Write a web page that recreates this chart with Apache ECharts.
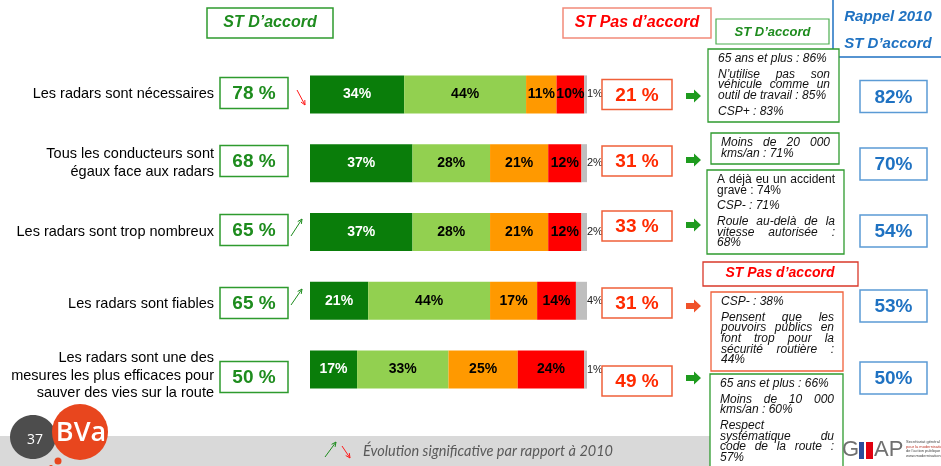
<!DOCTYPE html>
<html>
<head>
<meta charset="utf-8">
<script src="https://cdn.jsdelivr.net/npm/echarts@6/dist/echarts.min.js"></script>
<style>
  html, body { margin: 0; padding: 0; background: #fff; }
  #chart { width: 941px; height: 466px; }
</style>
</head>
<body>
<div id="chart"></div>
<script>
// ---- Data -----------------------------------------------------------------
const categories = [
  'Les radars sont nécessaires',
  'Tous les conducteurs sont\négaux face aux radars',
  'Les radars sont trop nombreux',
  'Les radars sont fiables',
  'Les radars sont une des\nmesures les plus efficaces pour\nsauver des vies sur la route'
];
const tresDaccord      = [34, 37, 37, 21, 17];
const plutotDaccord    = [44, 28, 28, 44, 33];
const plutotPasDaccord = [11, 21, 21, 17, 25];
const pasDuToutDaccord = [10, 12, 12, 14, 24];
const nsp              = [1, 2, 2, 4, 1];

const totalDaccord    = [78, 68, 65, 65, 50];
const totalPasDaccord = [21, 31, 33, 31, 49];
const rappel2010      = [82, 70, 54, 53, 50];
const evolution       = ['down', null, 'up', 'up', null];

// Profile notes per statement (paragraphs of wrapped lines)
const noteTexts = [
  [['65 ans et plus : 86%'], ['N’utilise pas son', 'véhicule comme un', 'outil de travail : 85%'], ['CSP+ : 83%']],
  [['Moins de 20 000', 'kms/an : 71%']],
  [['A déjà eu un accident', 'grave : 74%'], ['CSP- : 71%'], ['Roule au-delà de la', 'vitesse autorisée :', '68%']],
  [['CSP- : 38%'], ['Pensent que les', 'pouvoirs publics en', 'font trop pour la', 'sécurité routière :', '44%']],
  [['65 ans et plus : 66%'], ['Moins de 10 000', 'kms/an : 60%'], ['Respect', 'systématique du', 'code de la route :', '57%']]
];
const noteGroup = ['accord', 'accord', 'accord', 'pas', 'accord'];

const headerAccord = 'ST D’accord';
const headerPas = 'ST Pas d’accord';
const headerRappel = ['Rappel 2010', 'ST D’accord'];
const footerText = 'Évolution significative par rapport à 2010';

// ---- Styles & layout ------------------------------------------------------
const FONT = '"Liberation Sans", Arial, sans-serif';
const C = {
  dark: '#0A7D0A', light: '#92D050', orange: '#FF9900', red: '#FF0000', grey: '#BFBFBF',
  green: '#1E8C1E', greenBorder: '#2E9B2E', redText: '#FF2A00', redBorder: '#F0603A',
  blue: '#1F72C2', blueBorder: '#5B9BD5'
};
const greenBoxY = [93, 161, 230, 303, 377];
const redBoxY   = [94.5, 161, 226, 303, 381];
const arrowY    = [96, 160, 225, 306, 378];
const blueBoxY  = [96.5, 164, 231, 306, 378];
const labelShift = [0, 0, 0, 6, 12];   // extra top space pushing some axis labels down
const noteBoxes = [
  { x: 708, y: 49,  w: 131, h: 73 },
  { x: 711, y: 133, w: 128, h: 31 },
  { x: 707, y: 170, w: 137, h: 84, upright: [0] },
  { x: 711, y: 292, w: 132, h: 79 },
  { x: 710, y: 374, w: 133, h: 96 }
];

const chart = echarts.init(document.getElementById('chart'), null, { renderer: 'canvas' });

function segLabel(color) {
  return {
    show: true, position: 'inside', formatter: '{c}%',
    color: color, fontFamily: FONT, fontWeight: 'bold', fontSize: 14
  };
}
function segSeries(name, data, color, labelColor) {
  return {
    name, type: 'bar', stack: 'total', data, barWidth: 38,
    itemStyle: { color }, label: segLabel(labelColor), silent: true
  };
}

const series = [
  segSeries('Tout à fait d’accord', tresDaccord, C.dark, '#fff'),
  segSeries('Plutôt d’accord', plutotDaccord, C.light, '#000'),
  segSeries('Plutôt pas d’accord', plutotPasDaccord, C.orange, '#000'),
  segSeries('Pas du tout d’accord', pasDuToutDaccord, C.red, '#000'),
  {
    name: 'NSP', type: 'bar', stack: 'total', data: nsp, barWidth: 38,
    itemStyle: { color: C.grey }, silent: true,
    label: { show: true, position: 'right', distance: 0, formatter: '{c}%',
             color: '#222', fontFamily: FONT, fontSize: 11 }
  }
];

// ---- Decorations drawn with graphic elements ------------------------------
const g = [];
function rect(x, y, w, h, stroke, lw, fill) {
  g.push({ type: 'rect', z: 10, shape: { x, y, width: w, height: h },
           style: { fill: fill || '#fff', stroke: stroke, lineWidth: lw || 1.5 } });
}
function text(x, y, t, o) {
  o = o || {};
  g.push({ type: 'text', z: 11, x, y, style: {
    text: t, fill: o.color || '#000', fontSize: o.size || 12, fontFamily: o.family || FONT,
    fontWeight: o.weight || 'normal', fontStyle: o.style || 'normal',
    align: o.align || 'center', verticalAlign: 'middle'
  }});
}
function trendArrow(x1, y1, x2, y2, color) {
  g.push({ type: 'polyline', z: 11, shape: { points: [[x1, y1], [x2, y2]] },
           style: { stroke: color, lineWidth: 1, fill: null } });
  const a = Math.atan2(y2 - y1, x2 - x1), L = 5;
  g.push({ type: 'polyline', z: 11, shape: { points: [
    [x2 - L * Math.cos(a - 0.45), y2 - L * Math.sin(a - 0.45)], [x2, y2],
    [x2 - L * Math.cos(a + 0.45), y2 - L * Math.sin(a + 0.45)]] },
    style: { stroke: color, lineWidth: 1, fill: null } });
}
function blockArrow(x, y, color) {
  g.push({ type: 'polygon', z: 11, shape: { points: [
    [x, y - 3], [x + 8, y - 3], [x + 8, y - 6.5], [x + 15, y], [x + 8, y + 6.5], [x + 8, y + 3], [x, y + 3]] },
    style: { fill: color } });
}

// Measurement context for justified note text
const mctx = document.createElement('canvas').getContext('2d');
function wordsJustified(line, left, right, y, font, o) {
  mctx.font = font;
  const words = line.split(' ');
  const widths = words.map(w => mctx.measureText(w).width);
  const total = widths.reduce((s, v) => s + v, 0);
  const gap = (right - left - total) / (words.length - 1);
  let x = left;
  words.forEach((w, k) => {
    text(x, y, w, Object.assign({}, o, { align: 'left' }));
    x += widths[k] + gap;
  });
}

// Column headers
rect(207, 8, 126, 30, C.greenBorder, 1.5);
text(270, 23, headerAccord, { color: C.green, size: 16, weight: 'bold', style: 'italic' });
rect(563, 8, 148, 30, '#F28A7A', 1.5);
text(637, 23, headerPas, { color: C.red, size: 16, weight: 'bold', style: 'italic' });
rect(716, 19, 113, 25, '#4CAF50', 1.2);
text(772.5, 32, headerAccord, { color: C.green, size: 13, weight: 'bold', style: 'italic' });
rect(833, -3, 120, 60, C.blue, 1.5);
text(888, 17, headerRappel[0], { color: C.blue, size: 15, weight: 'bold', style: 'italic' });
text(888, 44, headerRappel[1], { color: C.blue, size: 15, weight: 'bold', style: 'italic' });
rect(703, 262, 155, 24, '#D9382A', 1.3);
text(780, 273.5, headerPas, { color: C.red, size: 14, weight: 'bold', style: 'italic' });

// Per-statement boxes
categories.forEach((c, i) => {
  rect(220, greenBoxY[i] - 15.5, 68, 31, C.greenBorder, 1.5);
  text(254, greenBoxY[i] + 1, totalDaccord[i] + ' %', { color: C.green, size: 19, weight: 'bold' });
  rect(602, redBoxY[i] - 15, 70, 30, C.redBorder, 1.5);
  text(637, redBoxY[i] + 1, totalPasDaccord[i] + ' %', { color: C.redText, size: 19, weight: 'bold' });
  blockArrow(686, arrowY[i], noteGroup[i] === 'pas' ? '#F0522A' : '#1E9B1E');
  rect(860, blueBoxY[i] - 16, 67, 32, C.blueBorder, 1.5);
  text(893.5, blueBoxY[i] + 1, rappel2010[i] + '%', { color: C.blue, size: 19, weight: 'bold' });
});

// Significant change markers
const trendPos = [[297, 90, 305, 105], null, [291, 236, 302, 219], [291, 305, 302, 289], null];
evolution.forEach((e, i) => {
  if (!e) return;
  const p = trendPos[i];
  trendArrow(p[0], p[1], p[2], p[3], e === 'up' ? '#1E8C1E' : '#FF1A1A');
});

// Footer band and logos
g.push({ type: 'rect', z: 1, shape: { x: 0, y: 436, width: 843, height: 30 }, style: { fill: '#D9D9D9' } });
g.push({ type: 'ellipse', z: 2, shape: { cx: 33, cy: 437, rx: 23, ry: 22 }, style: { fill: '#4D4D4D' } });
g.push({ type: 'circle', z: 3, shape: { cx: 80, cy: 432, r: 28 }, style: { fill: '#E8461E' } });
g.push({ type: 'circle', z: 3, shape: { cx: 58, cy: 461, r: 3.5 }, style: { fill: '#E8461E' } });
g.push({ type: 'circle', z: 3, shape: { cx: 51, cy: 467, r: 2 }, style: { fill: '#E8461E' } });
text(35, 440, '37', { color: '#fff', size: 14, family: '"Open Sans", sans-serif' });
text(81, 433, 'BVa', { color: '#fff', size: 27, weight: 600, family: '"Open Sans", sans-serif' });
trendArrow(325, 457, 336, 442, '#1E8C1E');
trendArrow(342, 446, 350, 458, '#FF1A1A');
text(363, 451, footerText, { color: '#595959', size: 14.5, style: 'italic', family: 'Lato, sans-serif', align: 'left' });
text(842, 450, 'G', { color: '#707070', size: 22, align: 'left' });
g.push({ type: 'rect', z: 11, shape: { x: 859, y: 442, width: 5, height: 17 }, style: { fill: '#2B4C9B' } });
g.push({ type: 'rect', z: 11, shape: { x: 866, y: 442, width: 7, height: 17 }, style: { fill: '#E1000F' } });
text(874, 450, 'AP', { color: '#707070', size: 22, align: 'left' });
['Secrétariat général', 'pour la modernisation', 'de l’action publique', 'www.modernisation.gouv.fr']
  .forEach((t, k) => text(906, 442 + k * 4.5, t, { color: k === 1 ? '#C0392B' : '#444', size: 4, align: 'left' }));

// Profile note boxes: justified italic lines, last line of each paragraph left-aligned
const LINE = 10.6, PARA = 15.5;
noteTexts.forEach((paras, i) => {
  const b = noteBoxes[i];
  rect(b.x, b.y, b.w, b.h, noteGroup[i] === 'pas' ? C.redBorder : C.greenBorder, 1.3);
  const left = b.x + 10, right = b.x + b.w - 9;
  let y = null;
  paras.forEach((lines, p) => {
    const upright = b.upright && b.upright.indexOf(p) >= 0;
    const o = { size: 12, style: upright ? 'normal' : 'italic', color: '#111' };
    const font = (upright ? '' : 'italic ') + '12px ' + FONT;
    lines.forEach((ln, k) => {
      y = (y === null) ? b.y + 10 : y + (k === 0 ? PARA : LINE);
      if (k < lines.length - 1 && ln.indexOf(' ') > 0) wordsJustified(ln, left, right, y, font, o);
      else text(left, y, ln, Object.assign({}, o, { align: 'left' }));
    });
  });
});

// ---- Chart ----------------------------------------------------------------
chart.setOption({
  animation: false,
  backgroundColor: '#fff',
  grid: { left: 310, right: 354, top: 60, bottom: 62, outerBoundsMode: 'none' },
  xAxis: { type: 'value', min: 0, max: 100, show: false },
  yAxis: {
    type: 'category', inverse: true, data: categories,
    axisLine: { show: false }, axisTick: { show: false }, splitLine: { show: false },
    axisLabel: {
      margin: 96, color: '#000', fontFamily: FONT, fontSize: 14.5, lineHeight: 17.5,
      formatter: (value, idx) => {
        const body = value.split('\n').map(l => '{n|' + l + '}').join('\n');
        return labelShift[idx] ? '{s' + idx + '| }\n' + body : body;
      },
      rich: {
        n: { color: '#000', fontFamily: FONT, fontSize: 14.5, lineHeight: 17.5, align: 'right' },
        s3: { fontSize: 2, lineHeight: 6 },
        s4: { fontSize: 2, lineHeight: 12 }
      }
    }
  },
  series,
  graphic: { elements: g }
});
</script>
</body>
</html>
